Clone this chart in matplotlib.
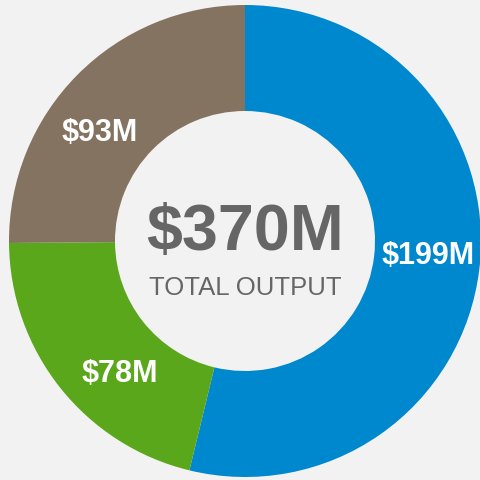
import numpy as np
import matplotlib.pyplot as plt

# data
values = [199, 78, 93]
labels = ['$199M', '$78M', '$93M']
colors = ['#0088cf', '#5ba71b', '#857362']
total_label = '$370M'
subtitle = 'TOTAL OUTPUT'

# small nudges so labels sit where the original puts them (px)
nudge = [(1, 7), (18, -19), (-15, -21)]

bg = '#f2f2f2'
plt.rcParams['font.family'] = ['Liberation Sans', 'DejaVu Sans']

fig = plt.figure(figsize=(4.8, 4.8), dpi=100, facecolor=bg)
ax = fig.add_axes([0, 0, 1, 1])
ax.set_facecolor(bg)

cx, cy, R, r_in = 245, 239, 236, 130
wedges, _ = ax.pie(values, colors=colors, startangle=90, counterclock=False,
                   center=(cx, cy), radius=R,
                   wedgeprops=dict(width=R - r_in, linewidth=0),
                   frame=True)
ax.set_xlim(0, 480)
ax.set_ylim(0, 480)
ax.set_aspect('equal')
ax.axis('off')

rl = (R + r_in) / 2
for w, lab, (dx, dy) in zip(wedges, labels, nudge):
    ang = np.deg2rad((w.theta1 + w.theta2) / 2)
    x = cx + rl * np.cos(ang) + dx
    y = cy + rl * np.sin(ang) + dy
    ax.text(x, y, lab, ha='center', va='center', color='white',
            fontsize=22, fontweight='bold')

ax.text(cx, 480 - 233, total_label, ha='center', va='center',
        color='#666666', fontsize=46.5, fontweight='bold')
ax.text(cx, 480 - 288, subtitle, ha='center', va='center',
        color='#666666', fontsize=18.5)

fig.savefig('out.png', dpi=100, facecolor=bg)
